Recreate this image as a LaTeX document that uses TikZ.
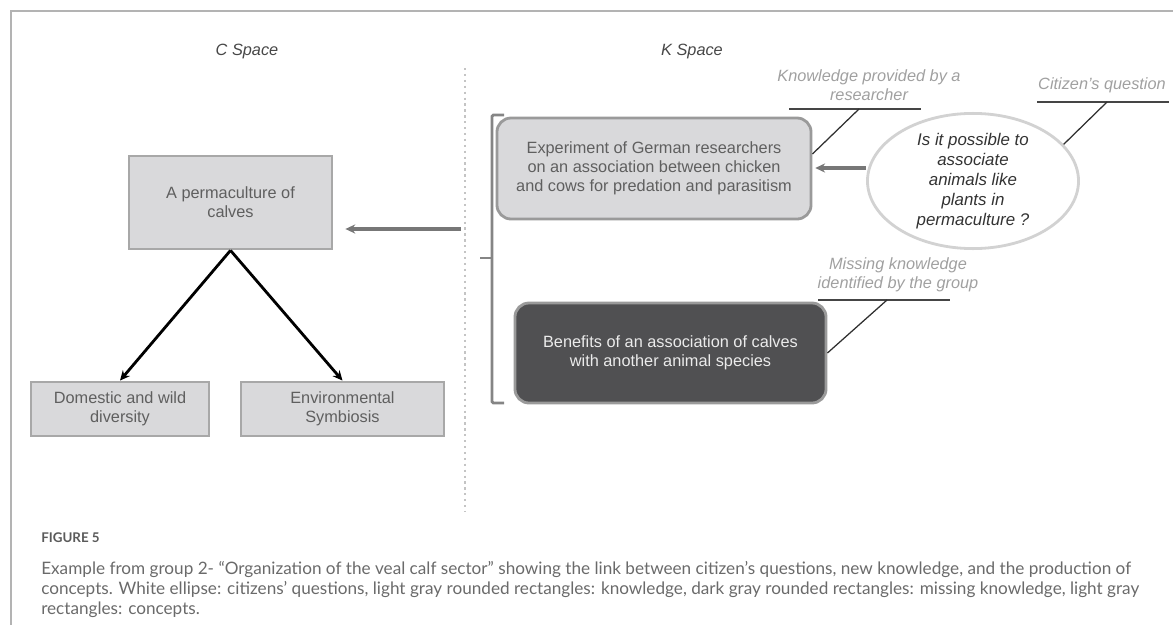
\documentclass[tikz,border=0pt]{standalone}
\usepackage{fontspec}
\setmainfont{Liberation Sans}
\newfontfamily\capfont{Lato}
\usepackage{xcolor}
\usetikzlibrary{arrows.meta,positioning,shapes.geometric,calc}

\definecolor{framegray}{HTML}{B3B3B3}
\definecolor{dotgray}{HTML}{C4C4C4}
\definecolor{boxfill}{HTML}{D9D9DB}
\definecolor{boxline}{HTML}{A8A8A8}
\definecolor{boxtext}{HTML}{5F5F5F}
\definecolor{knowline}{HTML}{9A9A9A}
\definecolor{darkfill}{HTML}{505052}
\definecolor{qline}{HTML}{D2D2D2}
\definecolor{qtext}{HTML}{333333}
\definecolor{notegray}{HTML}{A0A0A0}
\definecolor{leadgray}{HTML}{303030}
\definecolor{arrowgray}{HTML}{777777}
\definecolor{bracketgray}{HTML}{858585}
\definecolor{capgray}{HTML}{6A6A6A}

\begin{document}
\begin{tikzpicture}[
  x=0.025cm, y=-0.025cm,
  >={Stealth[length=7pt,width=6.5pt]},
  txt/.style={font=\fontsize{11.6}{13.5}\selectfont, align=center},
  concept/.style={txt, rectangle, draw=boxline, fill=boxfill, line width=2pt,
    text=boxtext, inner sep=0pt},
  know/.style={concept, draw=knowline, rounded corners=10pt},
  missing/.style={know, fill=darkfill, text=white!92!black},
  question/.style={ellipse, draw=qline, fill=white, line width=2pt, inner sep=0pt,
    text=qtext, align=center, font=\fontsize{12}{14.2}\selectfont\itshape},
  note/.style={txt, text=notegray, font=\fontsize{11.6}{13.5}\selectfont\itshape},
  uline/.style={draw=leadgray!90, line width=1.3pt},
  leader/.style={draw=leadgray, line width=0.9pt},
  grayarrow/.style={->, draw=arrowgray, line width=2.2pt},
  blackarrow/.style={->, draw=black, line width=2pt}
]
  \useasboundingbox (0,0) rectangle (1173,625);
  \draw[framegray, line width=1pt] (1173,11) -- (11,11) -- (11,625);

  \node[txt, text=qtext!90, font=\fontsize{11.6}{13.5}\selectfont\itshape] (cspace) at (247,51) {C Space};
  \node[txt, text=qtext!90, font=\fontsize{11.6}{13.5}\selectfont\itshape] (kspace) at (692,51) {K Space};
  \draw[dotgray, line width=1.6pt, dash pattern=on 1.6pt off 2.6pt] (465,68) -- (465,512);

  \node[concept, minimum width=5.075cm, minimum height=2.325cm] (perm) at (230.5,202.5)
    {A permaculture of\\calves};
  \node[concept, minimum width=4.45cm, minimum height=1.35cm] (dom) at (120,409)
    {Domestic and wild\\diversity};
  \node[concept, minimum width=5.075cm, minimum height=1.35cm] (env) at (342.5,409)
    {Environmental\\Symbiosis};

  \node[know, minimum width=7.85cm, minimum height=2.525cm] (exp) at (654,168.5)
    {Experiment of German researchers\\on an association between chicken\\and cows for predation and parasitism};
  \node[missing, minimum width=7.775cm, minimum height=2.5cm] (benef) at (670.5,353)
    {Benefits of an association of calves\\with another animal species};
  \node[question, minimum width=5.275cm, minimum height=3.3cm] (quest) at (973,181)
    {Is it possible to\\associate\\animals like\\plants in\\permaculture ?};

  \node[note] (knote) at (869,85.5) {Knowledge provided by a\\researcher};
  \node[note] (qnote) at (1102,85) {Citizen's question};
  \node[note] (mnote) at (898,275) {Missing knowledge\\identified by the group};

  \draw[uline] (789,109) -- (921,109);
  \draw[uline] (1037,102) -- (1169,102);
  \draw[uline] (818,300) -- (950,300);
  \coordinate (kfoot) at (859,109);
  \coordinate (qfoot) at (1107,102);
  \coordinate (mfoot) at (887,300);
  \draw[leader] (kfoot) -- (exp.east |- 0,154);
  \draw[leader] (qfoot) -- (quest.22);
  \draw[leader] (mfoot) -- (benef.east);

  \draw[bracketgray, line width=2pt, rounded corners=1pt]
    (504,115) -- (492,115) -- (492,403) -- (504,403);
  \coordinate (kout) at (461,229);
  \draw[bracketgray, line width=2pt] (492,258) -- (480,258);

  \draw[grayarrow, shorten >=12pt*0.709] (kout) -- (perm.east |- kout);
  \draw[grayarrow, shorten >=2pt] (quest.west |- 0,168) -- (exp.east |- 0,168);
  \draw[blackarrow] (perm.south) -- (dom.north);
  \draw[blackarrow] (perm.south) -- (env.north);

  \node[anchor=base west, inner sep=0pt, text=capgray!85!black,
    font=\capfont\bfseries\fontsize{9.5}{11}\selectfont] (fig) at (41,542) {FIGURE 5};
  \node[anchor=north west, inner sep=0pt, align=left, text=capgray,
    font=\capfont\fontsize{12.2}{14.2}\selectfont] (caption) at (41,561)
    {Example from group 2- “Organization of the veal calf sector” showing the link between citizen’s questions, new knowledge, and the production of\\
     concepts. White ellipse: citizens’ questions, light gray rounded rectangles: knowledge, dark gray rounded rectangles: missing knowledge, light gray\\
     rectangles: concepts.};
\end{tikzpicture}
\end{document}
